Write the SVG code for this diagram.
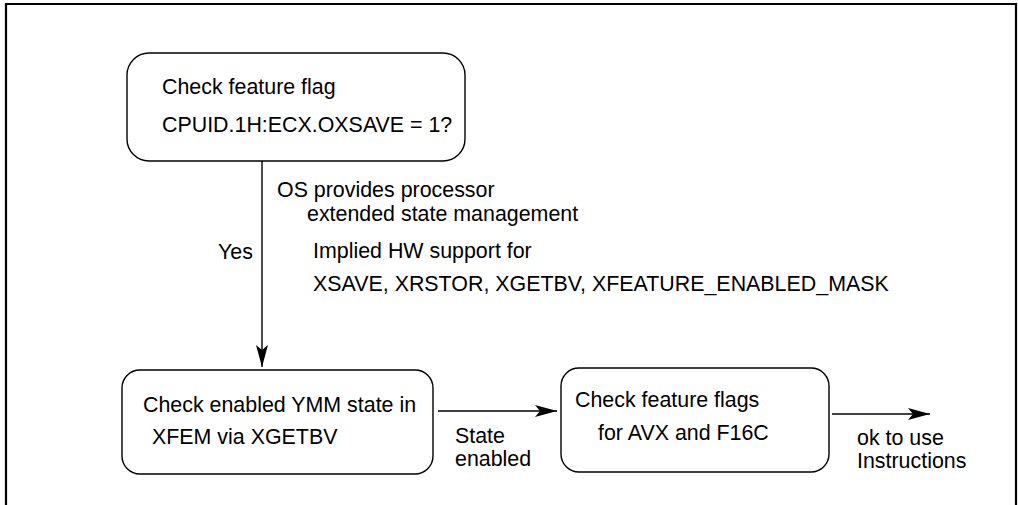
<svg xmlns="http://www.w3.org/2000/svg" width="1018" height="505" viewBox="0 0 1018 505">
<defs>
<style>
.box{fill:#fff;stroke:#000;stroke-width:1.4}
.t{font-family:"Liberation Sans",Arial,sans-serif;font-size:21.4px;fill:#000}
.ln{stroke:#000;stroke-width:1.4;fill:none}
</style>
<marker id="ah" viewBox="0 0 22 12" refX="22" refY="6" markerWidth="22" markerHeight="12" markerUnits="userSpaceOnUse" orient="auto">
<path d="M0,0 L22,6 L0,12 L5,6 Z" fill="#000"/>
</marker>
</defs>
<rect width="1018" height="505" fill="#fff"/>
<path d="M6,505 V4 H1016 V505" fill="none" stroke="#000" stroke-width="2.2"/>
<g id="n1">
<rect class="box" x="127" y="53" width="338" height="108" rx="22"/>
<text class="t" x="162" y="94">Check feature flag</text>
<text class="t" x="162" y="132">CPUID.1H:ECX.OXSAVE = 1?</text>
</g>
<g id="n2">
<rect class="box" x="122" y="370" width="311" height="104" rx="18"/>
<text class="t" x="143" y="412">Check enabled YMM state in</text>
<text class="t" x="152" y="444">XFEM via XGETBV</text>
</g>
<g id="n3">
<rect class="box" x="561" y="368" width="268" height="104" rx="18"/>
<text class="t" x="575" y="407">Check feature flags</text>
<text class="t" x="598" y="440">for AVX and F16C</text>
</g>
<g id="connectors">
<path class="ln" d="M262,161 V367" marker-end="url(#ah)"/>
<path class="ln" d="M438,411 H557" marker-end="url(#ah)"/>
<path class="ln" d="M832,414 H930" marker-end="url(#ah)"/>
<text class="t" x="218" y="259">Yes</text>
<text class="t" x="277" y="197">OS provides processor</text>
<text class="t" x="307" y="221">extended state management</text>
<text class="t" x="313" y="258">Implied HW support for</text>
<text class="t" x="313" y="291">XSAVE, XRSTOR, XGETBV, XFEATURE_ENABLED_MASK</text>
<text class="t" x="455" y="443">State</text>
<text class="t" x="455" y="466">enabled</text>
<text class="t" x="857" y="445">ok to use</text>
<text class="t" x="857" y="468">Instructions</text>
</g>
</svg>
